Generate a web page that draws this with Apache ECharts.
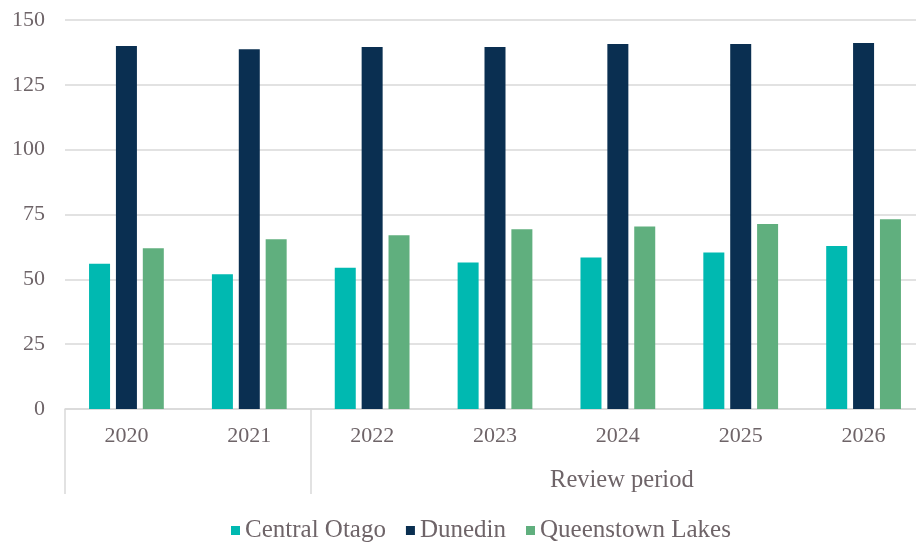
<!DOCTYPE html>
<html>
<head>
<meta charset="utf-8">
<script src="https://cdn.jsdelivr.net/npm/echarts@6/dist/echarts.min.js"></script>
<style>
  html, body { margin: 0; padding: 0; background: #fff; }
  #main { width: 916px; height: 542px; }
</style>
</head>
<body>
<div id="main"></div>
<script>
// categories and values
const years = ['2020', '2021', '2022', '2023', '2024', '2025', '2026'];
const groupBreaks = [0, 2];       // category boundaries of the outer axis level
const periodLabel = 'Review period';
const periodCentre = 4.5;         // middle of 2022..2026
const centralOtago = [56.0, 52.0, 54.5, 56.5, 58.4, 60.3, 62.9];
const dunedin = [140.0, 138.7, 139.6, 139.6, 140.7, 140.7, 141.1];
const queenstownLakes = [62.0, 65.5, 67.0, 69.3, 70.4, 71.3, 73.2];

const fontFamily = '"Liberation Serif", "DejaVu Serif", serif';
const textColor = '#6e6468';
const lineColor = '#d9d9d9';

const myChart = echarts.init(document.getElementById('main'));

// bars share one style, only name, data and colour change
function bar(name, data, color) {
    return {
        name: name,
        type: 'bar',
        data: data,
        barWidth: 21,
        barGap: '28%',
        itemStyle: {color: color}
    };
}

const option = {
    animation: false,
    textStyle: {fontFamily: fontFamily},
    // the plot runs a little past the right edge of the picture
    grid: {left: 65, width: 860, top: 20, bottom: 133, outerBoundsMode: 'none'},
    legend: {
        top: 513,
        left: 226,
        icon: 'rect',
        itemWidth: 9,
        itemHeight: 9,
        itemGap: 20,
        textStyle: {fontFamily: fontFamily, fontSize: 25, color: textColor}
    },
    xAxis: [{
        type: 'category',
        data: years,
        axisLine: {lineStyle: {color: lineColor, width: 1.5}},
        axisTick: {show: false},
        axisLabel: {
            interval: 0, margin: 16,
            fontFamily: fontFamily, fontSize: 22, color: textColor
        }
    }, {
        // outer level of the two-level category axis
        type: 'value',
        position: 'bottom',
        min: 0,
        max: years.length,
        axisLine: {show: false},
        splitLine: {show: false},
        axisTick: {
            show: true,
            customValues: groupBreaks,
            length: 85,
            lineStyle: {color: lineColor, width: 1.5}
        },
        axisLabel: {
            customValues: [periodCentre],
            formatter: function () { return periodLabel; },
            margin: 59,
            padding: [0, 0, 0, 8],
            fontFamily: fontFamily, fontSize: 24.5, color: textColor
        }
    }],
    yAxis: {
        type: 'value',
        min: 0,
        max: 150,
        interval: 25,
        axisLine: {show: false},
        axisTick: {show: false},
        axisLabel: {margin: 20, fontFamily: fontFamily, fontSize: 22, color: textColor},
        splitLine: {lineStyle: {color: lineColor, width: 1.5}}
    },
    series: [
        bar('Central Otago', centralOtago, '#00b9b1'),
        bar('Dunedin', dunedin, '#0a2f51'),
        bar('Queenstown Lakes', queenstownLakes, '#60af7e')
    ]
};
myChart.setOption(option);
</script>
</body>
</html>
